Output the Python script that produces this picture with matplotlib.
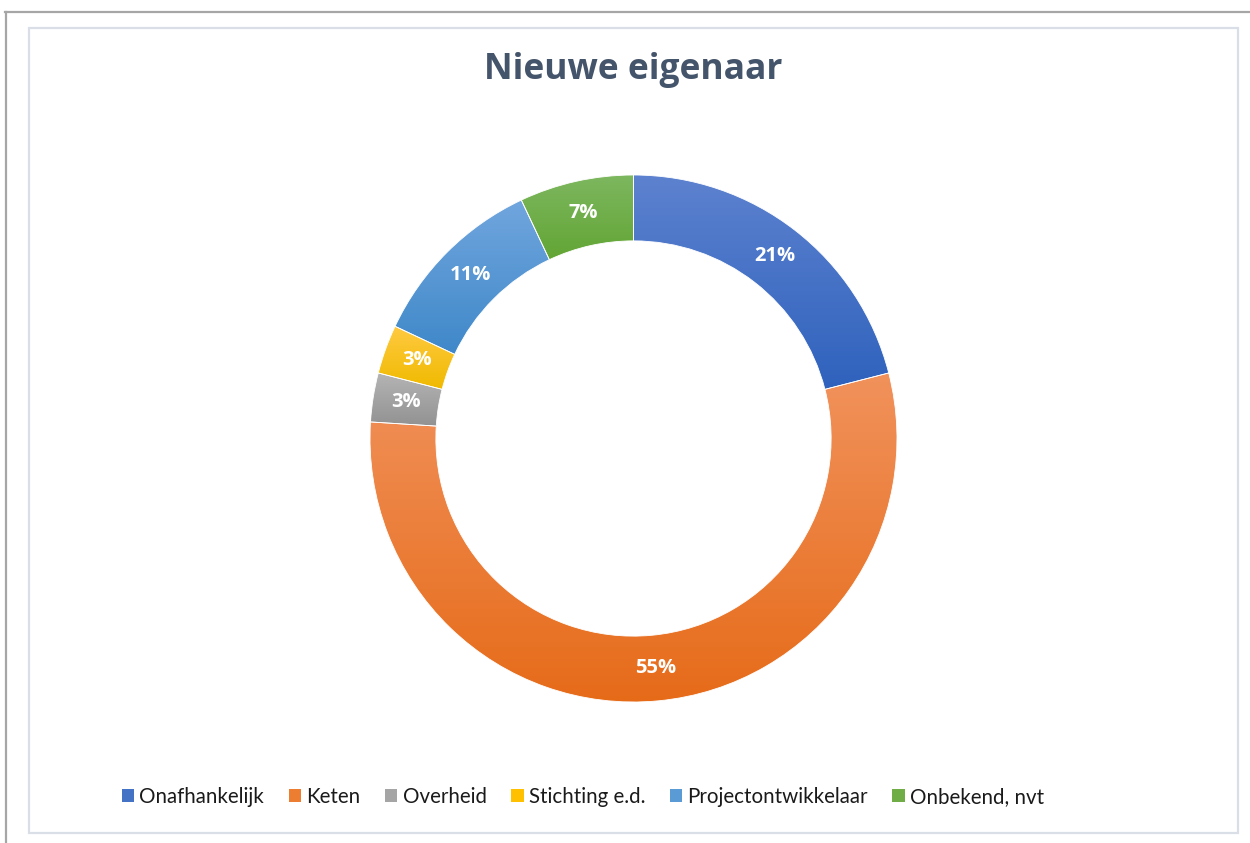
import numpy as np
import matplotlib
matplotlib.use("Agg")
import matplotlib.pyplot as plt
from matplotlib.colors import LinearSegmentedColormap
from matplotlib.patches import Patch, Rectangle
from matplotlib.lines import Line2D

# ---- data ----
categories = ["Onafhankelijk", "Keten", "Overheid", "Stichting e.d.",
              "Projectontwikkelaar", "Onbekend, nvt"]
values = [21, 55, 3, 3, 11, 7]
top_colors = ["#5d82cf", "#f1925c", "#b5b5b5", "#ffca42", "#71a6de", "#7db75f"]
bottom_colors = ["#2f62bd", "#e66b19", "#929292", "#f0ba00", "#3f88c9", "#62a534"]
mid_colors = ["#4472c4", "#ed7d31", "#a5a5a5", "#ffc000", "#5b9bd5", "#70ad47"]
title = "Nieuwe eigenaar"

W, H = 1250, 843
fig = plt.figure(figsize=(W / 100, H / 100), dpi=100)
fig.patch.set_facecolor("white")

# frames
fig.add_artist(Line2D([5 / W, 1.0], [1 - 12 / H, 1 - 12 / H], color="#a6a6a6", lw=1.6))
fig.add_artist(Line2D([6 / W, 6 / W], [0, 1 - 12 / H], color="#a6a6a6", lw=1.6))
fig.add_artist(Rectangle((29 / W, 1 - 833 / H), (1238 - 29) / W, (833 - 28) / H,
                         transform=fig.transFigure, fill=False,
                         edgecolor="#dadee7", lw=1.6))

# donut axes
cx, cy, R = 633.5, 438.5, 263.5
half = 270
ax = fig.add_axes([(cx - half) / W, (H - cy - half) / H, 2 * half / W, 2 * half / H])
lim = half / R

wedges, texts, autotexts = ax.pie(
    values, startangle=90, counterclock=False, radius=1.0,
    colors=mid_colors,
    wedgeprops=dict(width=0.25, edgecolor="white", linewidth=0.6),
    autopct=lambda p: f"{p:.0f}%", pctdistance=0.875,
    textprops=dict(color="white", fontsize=14.5, fontweight="bold",
                   family="Open Sans"))

for w, tc, bc in zip(wedges, top_colors, bottom_colors):
    th = np.radians(np.linspace(w.theta1, w.theta2, 200))
    xs = np.concatenate([np.cos(th) * w.r, np.cos(th) * (w.r - w.width)])
    ys = np.concatenate([np.sin(th) * w.r, np.sin(th) * (w.r - w.width)])
    x0, x1, y0, y1 = xs.min(), xs.max(), ys.min(), ys.max()
    cmap = LinearSegmentedColormap.from_list("g", [bc, tc])
    grad = np.linspace(0, 1, 256).reshape(-1, 1)
    im = ax.imshow(grad, extent=[x0, x1, y0, y1], origin="lower", cmap=cmap,
                   aspect="auto", zorder=1, interpolation="bilinear")
    im.set_clip_path(w)
    w.set_facecolor("none")
    w.set_zorder(2)

for t in autotexts:
    t.set_zorder(3)

ax.set_xlim(-lim, lim)
ax.set_ylim(-lim, lim)
ax.set_aspect("equal")
ax.axis("off")

fig.text(633 / W, 1 - 70 / H, title, ha="center", va="center",
         fontsize=25.5, fontweight="bold", color="#44546a", family="Open Sans")

handles = [Patch(facecolor=c, edgecolor="none") for c in mid_colors]
leg = fig.legend(handles, categories, loc="center", bbox_to_anchor=(583 / W, 1 - 797 / H),
                 ncol=6, frameon=False, handlelength=0.6,
                 handleheight=0.6, handletextpad=0.25, columnspacing=1.2,
                 prop=dict(family="Lato", size=14.8))
for t in leg.get_texts():
    t.set_color("#1a1a1a")

fig.savefig("out.png", dpi=100)
